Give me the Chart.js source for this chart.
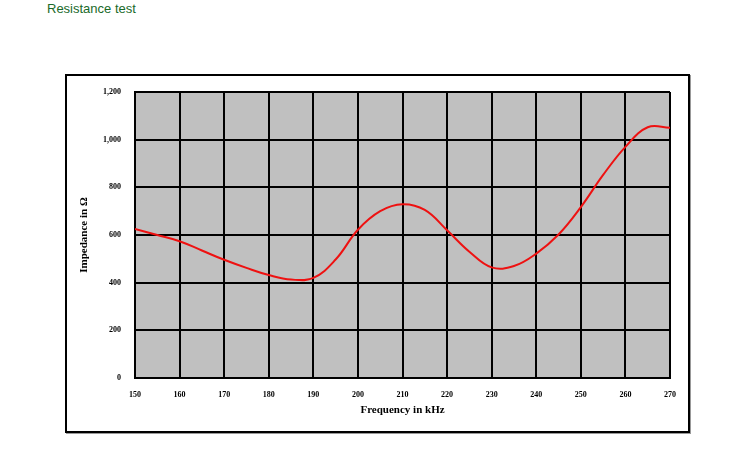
<!DOCTYPE html>
<html>
<head>
<meta charset="utf-8">
<script src="https://cdn.jsdelivr.net/npm/chart.js@4/dist/chart.umd.min.js"></script>
<style>
    body { margin: 0; background: #fff; width: 750px; height: 450px; position: relative; overflow: hidden; }
    #title { position: absolute; left: 47px; top: 1px; font: 13px "Liberation Sans", Arial, sans-serif; color: #1a6a2a; }
    #frame { position: absolute; left: 65px; top: 74px; width: 621px; height: 355px; border: 2px solid #000; box-shadow: 1px 1px 0 #999; }
    #wrap { position: absolute; left: 0; top: 0; width: 750px; height: 450px; }
</style>
</head>
<body>
<div id="title">Resistance test</div>
<div id="frame"></div>
<div id="wrap"><canvas id="chart" width="750" height="450"></canvas></div>
<script>
const frequencies = [150, 155, 160, 165, 170, 175, 180, 185, 190, 195, 200, 205, 210, 215, 220, 225, 230, 235, 240, 245, 250, 255, 260, 265, 270];
const impedance = [625, 600, 574, 535, 496, 462, 432, 413, 420, 497, 622, 700, 729, 705, 620, 530, 464, 470, 522, 602, 717, 852, 970, 1052, 1050];
const xLabel = "Frequency in kHz";
const yLabel = "Impedance in \u03A9";

// grey plot background
const plotBg = {
    id: "plotBg",
    beforeDraw(chart) {
        const a = chart.chartArea;
        const ctx = chart.ctx;
        ctx.save();
        ctx.fillStyle = "#c0c0c0";
        ctx.fillRect(a.left, a.top, a.right - a.left, a.bottom - a.top);
        ctx.restore();
    }
};

const tickFont = { family: "'Liberation Serif', serif", size: 8, weight: "bold" };
const titleFont = { family: "'Liberation Serif', serif", size: 11, weight: "bold" };

new Chart(document.getElementById("chart"), {
    type: "line",
    data: {
        datasets: [{
            data: frequencies.map((f, i) => ({ x: f, y: impedance[i] })),
            borderColor: "#ee1111",
            borderWidth: 2,
            pointRadius: 0,
            tension: 0.4,
            fill: false
        }]
    },
    options: {
        responsive: false,
        animation: false,
        devicePixelRatio: 1,
        layout: { padding: { left: 66, right: 80, top: 92, bottom: 33 } },
        plugins: { legend: { display: false }, tooltip: { enabled: false } },
        scales: {
            x: {
                type: "linear",
                min: 150, max: 270,
                ticks: { stepSize: 10, color: "#000", font: tickFont, padding: 12, maxRotation: 0 },
                grid: { color: "#000", lineWidth: 2, drawTicks: false },
                border: { color: "#000", width: 2 },
                title: { display: true, text: xLabel, color: "#000", font: titleFont, padding: { top: 4, bottom: 0 } },
                afterFit(scale) { scale.height = 39; }
            },
            y: {
                min: 0, max: 1200,
                ticks: {
                    stepSize: 200, color: "#000", font: tickFont, padding: 14,
                    callback: v => v.toLocaleString("en-US")
                },
                grid: { color: "#000", lineWidth: 2, drawTicks: false },
                border: { color: "#000", width: 2 },
                title: { display: true, text: yLabel, color: "#000", font: titleFont, padding: { top: 12, bottom: 4 } },
                afterFit(scale) { scale.width = 69; }
            }
        }
    },
    plugins: [plotBg]
});
</script>
</body>
</html>
